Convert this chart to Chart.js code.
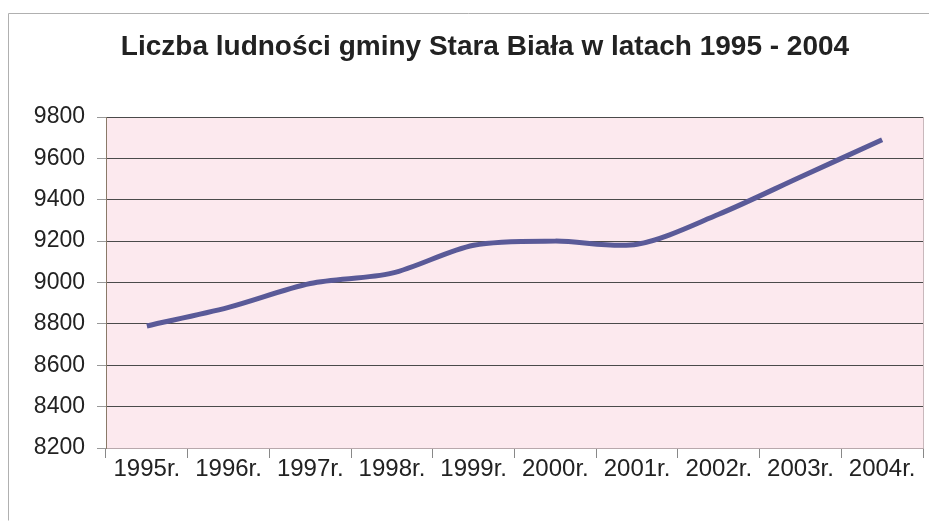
<!DOCTYPE html>
<html>
<head>
<meta charset="utf-8">
<script src="https://cdn.jsdelivr.net/npm/chart.js@4"></script>
<style>
    html, body { margin: 0; padding: 0; background: #fff; }
    #wrap { width: 929px; height: 525px; position: relative; }
</style>
</head>
<body>
<div id="wrap"><canvas id="popChart" width="929" height="525"></canvas></div>
<script>
// --- Data ---
const years = ['1995r.', '1996r.', '1997r.', '1998r.', '1999r.', '2000r.', '2001r.', '2002r.', '2003r.', '2004r.'];
const population = [8790, 8880, 8995, 9045, 9180, 9200, 9185, 9330, 9510, 9690];
const yMin = 8200;
const yMax = 9800;
const yStep = 200;

const titleText = 'Liczba ludności gminy Stara Biała w latach 1995 - 2004';
const FONT = 'Liberation Sans, Arial, sans-serif';

// pink plot background, outer frame and the title
const backdrop = {
    id: 'backdrop',
    beforeDraw(chart) {
        const { ctx, chartArea: a } = chart;
        ctx.save();
        ctx.fillStyle = '#fce9ee';
        ctx.fillRect(a.left, a.top, a.right - a.left, a.bottom - a.top);
        // right border of plot
        ctx.strokeStyle = '#c9b8bc';
        ctx.lineWidth = 1;
        ctx.beginPath();
        ctx.moveTo(a.right + 0.5, a.top);
        ctx.lineTo(a.right + 0.5, a.bottom);
        ctx.stroke();
        // outer frame of the chart object
        ctx.strokeStyle = '#b0b0b0';
        ctx.beginPath();
        ctx.moveTo(8.5, 520.5);
        ctx.lineTo(8.5, 13.5);
        ctx.lineTo(929, 13.5);
        ctx.stroke();
        // title
        ctx.fillStyle = '#222';
        ctx.font = 'bold 28px ' + FONT;
        ctx.textAlign = 'center';
        ctx.textBaseline = 'middle';
        ctx.fillText(titleText, 485, 47);
        ctx.restore();
    }
};

new Chart(document.getElementById('popChart'), {
    type: 'line',
    data: {
        labels: years,
        datasets: [{
            data: population,
            borderColor: '#5a5a98',
            borderWidth: 5,
            tension: 0.3,
            pointRadius: 0,
            fill: false,
            borderCapStyle: 'butt'
        }]
    },
    options: {
        responsive: false,
        animation: false,
        layout: { padding: { left: 10, right: 6, top: 117, bottom: 10 } },
        plugins: {
            legend: { display: false },
            tooltip: { enabled: false },
            title: { display: false }
        },
        scales: {
            x: {
                offset: true,
                grid: {
                    offset: true,
                    drawOnChartArea: false,
                    drawTicks: true,
                    tickLength: 10,
                    color: '#888'
                },
                border: { color: '#b8a8ac', width: 1 },
                ticks: {
                    color: '#222',
                    maxRotation: 0,
                    autoSkip: false,
                    padding: -3,
                    font: { family: FONT, size: 24 }
                },
                afterFit(scale) { scale.height = 67; }
            },
            y: {
                min: yMin,
                max: yMax,
                grid: {
                    color: '#4a4a4a',
                    lineWidth: 1,
                    tickLength: 9,
                    tickColor: '#999'
                },
                border: { color: '#8a7a68', width: 1 },
                ticks: {
                    stepSize: yStep,
                    color: '#222',
                    padding: 12,
                    font: { family: FONT, size: 23 },
                    callback: v => String(v)
                },
                afterFit(scale) { scale.width = 96; }
            }
        }
    },
    plugins: [backdrop]
});
</script>
</body>
</html>
